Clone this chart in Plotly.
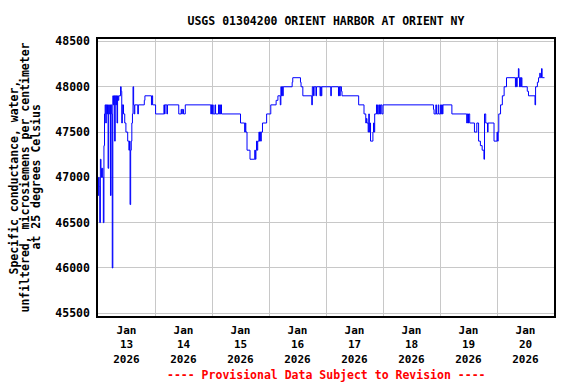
import pandas as pd
import plotly.graph_objects as go

# Hours after 2026-01-13 00:00 (local) and specific conductance values (uS/cm)
hours = [0.0, 0.25, 0.5, 0.75, 1.0, 1.25, 1.5, 1.75, 2.0, 2.25, 2.5, 2.75, 3.0, 3.25, 3.5, 3.75,
         4.0, 4.25, 4.5, 4.75, 5.0, 5.25, 5.5, 5.75, 6.0, 6.25, 6.5, 6.75, 7.0, 7.25, 7.5, 7.75,
         8.0, 8.25, 8.5, 8.75, 9.5, 9.75, 10.0, 10.25, 10.75, 11.25, 11.75, 12.5, 13.0, 13.25,
         13.5, 13.75, 14.0, 14.25, 14.5, 14.75, 15.0, 15.25, 15.5, 16.75, 17.0, 19.5, 19.75,
         22.5, 22.75, 23.0, 24.25, 27.75, 28.0, 28.25, 29.0, 29.25, 34.0, 35.0, 35.25, 35.5,
         36.0, 36.75, 47.5, 47.75, 48.0, 48.25, 48.5, 49.25, 49.5, 50.75, 51.0, 51.25, 51.5,
         51.75, 52.0, 60.0, 61.75, 62.0, 62.25, 62.75, 64.0, 66.0, 66.25, 66.5, 66.75, 67.0,
         67.25, 67.75, 68.0, 68.25, 68.5, 68.75, 69.25, 71.0, 72.75, 75.0, 75.75, 76.75, 77.0,
         77.25, 77.5, 77.75, 78.0, 81.75, 82.0, 85.25, 85.5, 86.25, 90.0, 90.25, 90.75, 91.0,
         91.75, 92.0, 93.5, 93.75, 94.0, 94.25, 98.0, 98.25, 101.25, 101.5, 101.75, 102.0,
         102.5, 102.75, 109.75, 112.0, 112.75, 113.0, 113.25, 113.75, 114.0, 114.25, 114.5,
         114.75, 115.75, 116.0, 116.25, 116.5, 117.25, 117.5, 117.75, 118.0, 118.5, 118.75,
         119.0, 119.5, 120.0, 141.25, 141.5, 142.25, 142.5, 143.25, 143.5, 144.25, 144.5,
         144.75, 145.0, 145.25, 149.0, 155.25, 155.5, 155.75, 156.0, 156.5, 158.5, 159.5,
         160.25, 161.0, 161.75, 162.5, 162.75, 163.25, 164.0, 164.25, 166.75, 168.0, 168.25,
         168.5, 168.75, 169.5, 170.25, 171.0, 172.0, 175.75, 176.0, 176.25, 176.5, 177.0,
         177.25, 177.5, 177.75, 178.0, 178.25, 178.5, 180.75, 181.25, 184.0, 184.25, 185.0,
         185.5, 186.0, 186.25, 186.75, 187.0, 188.0]

values = [46800, 47000, 46900, 46500, 47200, 47100, 47000, 47100, 47000, 46500, 47350, 47700,
          47800, 47600, 47800, 47700, 47800, 47100, 47800, 47700, 47800, 46800, 47800, 47700,
          46000, 47900, 47800, 47900, 47400, 47900, 47800, 47900, 47600, 47900, 47850, 47900,
          48000, 47950, 47600, 47800, 47700, 47600, 47500, 47400, 47300, 47400, 46700, 47300,
          47400, 47600, 47700, 48000, 47800, 47700, 47800, 47700, 47800, 47850, 47900, 47800,
          47900, 47800, 47700, 47800, 47700, 47800, 47700, 47800, 47700, 47750, 47700, 47750,
          47700, 47800, 47700, 47800, 47700, 47800, 47700, 47800, 47700, 47800, 47700, 47800,
          47700, 47800, 47700, 47600, 47500, 47600, 47500, 47300, 47200, 47300, 47200, 47300,
          47400, 47300, 47400, 47500, 47400, 47500, 47400, 47500, 47600, 47700, 47800, 47850,
          47900, 47800, 48000, 47900, 48000, 47900, 48000, 48050, 48100, 48050, 48000, 47900,
          47800, 48000, 47900, 48000, 47900, 48000, 47900, 48000, 47900, 48000, 47900, 48000,
          47900, 48000, 47900, 48000, 47950, 47900, 47800, 47700, 47600, 47650, 47600, 47500,
          47700, 47500, 47600, 47400, 47500, 47600, 47500, 47700, 47800, 47700, 47800, 47700,
          47800, 47700, 47800, 47700, 47800, 47750, 47700, 47800, 47700, 47800, 47700, 47800,
          47700, 47800, 47700, 47800, 47700, 47600, 47700, 47600, 47700, 47600, 47500, 47600,
          47400, 47350, 47300, 47200, 47700, 47600, 47500, 47600, 47400, 47500, 47400, 47500,
          47700, 47800, 47900, 48000, 48100, 48000, 48100, 48000, 48100, 48200, 48100, 48000,
          48100, 48000, 48100, 48000, 47950, 47900, 47800, 48000, 48050, 48100, 48150, 48100,
          48200, 48100, 48100]

day_labels = ["Jan<br>13<br>2026", "Jan<br>14<br>2026", "Jan<br>15<br>2026", "Jan<br>16<br>2026",
              "Jan<br>17<br>2026", "Jan<br>18<br>2026", "Jan<br>19<br>2026", "Jan<br>20<br>2026"]
day_noons = ["2026-01-%02d 12:00" % d for d in range(13, 21)]
y_ticks = [45500, 46000, 46500, 47000, 47500, 48000, 48500]
y_title_lines = ["Specific conductance, water,",
                 "unfiltered, microsiemens per centimeter",
                 "at 25 degrees Celsius"]

start = pd.Timestamp("2026-01-13 00:00")
times = start + pd.to_timedelta(hours, unit="h")

FONT = "DejaVu Sans Mono"

fig = go.Figure()
fig.add_trace(go.Scatter(x=times, y=values, mode="lines", line=dict(color="#0000ff", width=1, shape="hv"),
                         showlegend=False, hoverinfo="skip"))

fig.update_layout(
    width=576, height=384,
    margin=dict(l=98, r=22, t=39, b=68),
    paper_bgcolor="white", plot_bgcolor="white",
    font=dict(family=FONT, size=11.5, color="black"),
    title=dict(text="<b>USGS 01304200 ORIENT HARBOR AT ORIENT NY</b>", x=326 / 576, xanchor="center",
               y=1 - 21 / 384, yanchor="middle", font=dict(family=FONT, size=11.5, color="black")),
)

fig.update_xaxes(
    range=["2026-01-13 00:00", "2026-01-21 00:00"],
    tickmode="array", tickvals=day_noons, ticktext=["<b>%s</b>" % t for t in day_labels],
    ticks="", showgrid=False, zeroline=False,
    showline=True, mirror=True, linecolor="black", linewidth=1.5,
    tickfont=dict(family=FONT, size=11, color="black"),
    ticklabelstandoff=3,
    minor=dict(dtick=86400000, tick0="2026-01-13", showgrid=True, gridcolor="#c8c8c8", gridwidth=1, ticks=""),
)
fig.update_yaxes(
    range=[45470, 48527],
    tickmode="array", tickvals=y_ticks, ticktext=["<b>%d</b>" % v for v in y_ticks],
    ticks="", showgrid=True, gridcolor="#c8c8c8", gridwidth=1, zeroline=False,
    showline=True, mirror=True, linecolor="black", linewidth=1.5,
    tickfont=dict(family=FONT, size=11.5, color="black"),
    ticklabelstandoff=4,
)

for i, line in enumerate(y_title_lines):
    fig.add_annotation(text="<b>%s</b>" % line, textangle=-90, xref="paper", yref="paper",
                       x=0, y=0.5, xanchor="center", yanchor="middle",
                       xshift=13 + 11 * i - 98, showarrow=False,
                       font=dict(family=FONT, size=11.5, color="black"))

fig.add_annotation(text="<b>---- Provisional Data Subject to Revision ----</b>", xref="paper", yref="paper",
                   x=(326 - 98) / 456, y=0, yshift=-(375 - 316), xanchor="center", yanchor="middle",
                   showarrow=False, font=dict(family=FONT, size=11.5, color="#ff0000"))

fig.write_html("out.html")
